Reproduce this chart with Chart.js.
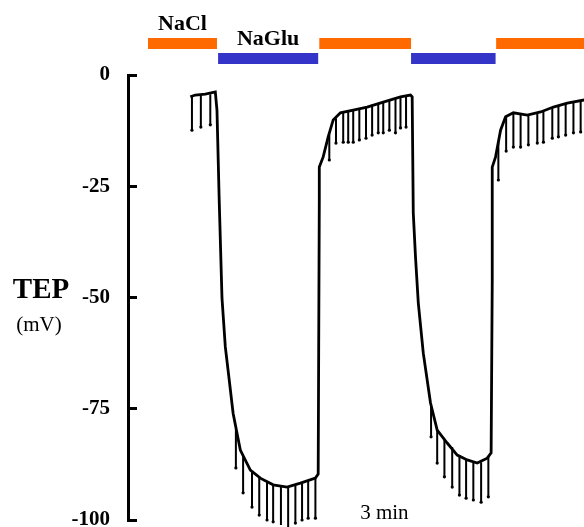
<!DOCTYPE html>
<html lang="en">
<head>
  <meta charset="UTF-8">
  <title>TEP trace</title>
  <script src="https://cdn.jsdelivr.net/npm/chart.js"></script>
  <style>
    html, body { margin: 0; padding: 0; background: #fff; }
    #wrap { width: 584px; height: 527px; position: relative; }
  </style>
</head>
<body>
  <div id="wrap"><canvas id="tep-chart"></canvas></div>

  <script>
    // time in s, TEP in mV
    const traceTime = [112, 121, 139, 157, 160, 164, 169, 175, 182, 189, 202, 220, 238, 261, 286, 310, 337, 342,
      344, 344, 351, 360, 369, 382, 405, 430, 459, 490, 508, 511, 513, 517, 522, 531, 544, 556, 574, 592, 610,
      628, 646, 653, 655, 655, 661, 670, 679, 693, 718, 742, 765, 790, 821];
    const traceTEP = [-4.9, -4.5, -4.3, -3.8, -7.9, -28.1, -50.1, -61.1, -68.5, -76.0, -84.3, -88.8, -90.6, -92.1,
      -92.6, -91.7, -90.6, -89.7, -28.1, -20.7, -18.4, -13.9, -10.1, -8.5, -7.9, -7.2, -6.1, -4.9, -4.5, -4.9,
      -31.0, -40.9, -51.2, -62.5, -73.7, -79.8, -82.7, -85.4, -86.5, -87.2, -86.1, -84.9, -46.1, -20.7, -18.4,
      -12.4, -9.4, -8.5, -9.0, -8.3, -7.2, -6.3, -5.6];

    // the downward deflections (current pulses)
    const spikeTime = [115, 131, 148, 194, 207, 223, 236, 250, 261, 275, 288, 301, 313, 324, 337,
      362, 374, 387, 396, 405, 416, 428, 439, 450, 459, 470, 481, 490, 500,
      545, 556, 569, 583, 596, 608, 621, 635, 648,
      666, 680, 693, 706, 720, 736, 747, 763, 774, 787, 801, 814];
    const spikeTop = [-4.9, -4.5, -4.3, -79.6, -85.6, -89.0, -90.3, -91.5, -92.1, -92.4, -92.6, -92.1, -91.5, -91.0, -90.6,
      -13.3, -9.7, -8.3, -8.1, -7.9, -7.6, -7.2, -6.7, -6.3, -6.1, -5.6, -5.4, -4.9, -4.7,
      -74.2, -79.8, -82.0, -83.6, -85.4, -86.5, -87.0, -87.0, -85.8,
      -15.1, -9.4, -8.5, -8.8, -9.0, -8.5, -8.1, -7.4, -7.0, -6.5, -6.1, -5.8];
    const spikeBottom = [-12.4, -11.7, -11.2, -88.3, -93.9, -97.1, -98.9, -100.0, -100.4, -101.1, -101.6, -100.7, -100.0, -99.6, -99.6,
      -19.1, -15.3, -15.1, -15.1, -15.1, -14.6, -14.2, -13.5, -13.0, -13.0, -12.4, -13.0, -11.9, -11.7,
      -81.3, -87.2, -90.3, -92.6, -94.4, -95.1, -95.5, -96.0, -94.8,
      -23.6, -17.1, -16.2, -16.2, -15.7, -15.3, -15.1, -14.2, -13.9, -13.5, -13.0, -12.8];

    // bath solutions
    const solutionNames = ['NaCl', 'NaGlu', 'NaCl', 'NaGlu', 'NaCl'];
    const solutionStart = [36, 162, 344, 509, 662];
    const solutionEnd = [160, 342, 509, 661, 821];

    const yTicks = [0, -25, -50, -75, -100];

    const solutionStyle = {
      NaCl: { color: '#ff6a00', level: 7.1 },
      NaGlu: { color: '#3434c8', level: 3.7 }
    };
    const serif = '"Liberation Serif", "DejaVu Serif", serif';

    const tracePts = traceTime.map((t, i) => ({ x: t, y: traceTEP[i] }));
    const spikePts = [];
    spikeTime.forEach((t, i) => {
      spikePts.push({ x: t, y: spikeTop[i] }, { x: t, y: spikeBottom[i] }, { x: t, y: null });
    });

    function solutionData(name) {
      const pts = [];
      solutionNames.forEach((n, i) => {
        if (n !== name) return;
        const lvl = solutionStyle[name].level;
        pts.push({ x: solutionStart[i], y: lvl }, { x: solutionEnd[i], y: lvl }, { x: solutionEnd[i], y: null });
      });
      return pts;
    }

    // labels that aren't axis ticks
    const textPlugin = {
      id: 'tepText',
      afterDraw(chart) {
        const c = chart.ctx;
        const xs = chart.scales.x;
        const ys = chart.scales.y;
        c.save();
        c.fillStyle = '#000';
        c.textAlign = 'center';
        c.textBaseline = 'middle';

        c.font = 'bold 22px ' + serif;
        ['NaCl', 'NaGlu'].forEach(name => {
          const i = solutionNames.indexOf(name);
          const mid = xs.getPixelForValue((solutionStart[i] + solutionEnd[i]) / 2);
          const top = ys.getPixelForValue(solutionStyle[name].level) - 5.5;
          c.fillText(name, mid, top - 14);
        });

        c.font = 'bold 29px ' + serif;
        c.fillText('TEP', 41, 291);
        c.font = '21px ' + serif;
        c.fillText('(mV)', 39, 325);

        c.font = '21px ' + serif;
        c.fillText('3 min', xs.getPixelForValue(461), 513);
        c.restore();
      }
    };

    new Chart(document.getElementById('tep-chart'), {
      type: 'line',
      data: {
        datasets: [
          {
            data: solutionData('NaCl'),
            borderColor: solutionStyle.NaCl.color,
            borderWidth: 11,
            borderCapStyle: 'butt',
            pointRadius: 0,
            spanGaps: false,
            clip: false
          },
          {
            data: solutionData('NaGlu'),
            borderColor: solutionStyle.NaGlu.color,
            borderWidth: 11,
            borderCapStyle: 'butt',
            pointRadius: 0,
            spanGaps: false,
            clip: false
          },
          {
            data: spikePts,
            borderColor: '#000',
            borderWidth: 2,
            pointRadius: ctx => (ctx.dataIndex % 3 === 1 ? 1.6 : 0),
            pointBackgroundColor: '#000',
            pointBorderWidth: 0,
            spanGaps: false,
            clip: false
          },
          {
            data: tracePts,
            borderColor: '#000',
            borderWidth: 2.8,
            pointRadius: 0,
            tension: 0,
            clip: false
          }
        ]
      },
      options: {
        responsive: true,
        maintainAspectRatio: false,
        animation: false,
        events: [],
        layout: { padding: { top: 75, bottom: 7, left: 0, right: 0 } },
        plugins: {
          legend: { display: false },
          tooltip: { enabled: false }
        },
        scales: {
          x: {
            type: 'linear',
            min: 0,
            max: 820,
            display: false
          },
          y: {
            min: -100,
            max: 0,
            // fixed axis width; drop the label padding so the range runs 0..-100 over the full height
            afterFit: s => { s.width = 128; s.paddingTop = 0; s.paddingBottom = 0; },
            afterBuildTicks: s => { s.ticks = yTicks.map(v => ({ value: v })); },
            border: { display: true, width: 3, color: '#000' },
            grid: {
              drawOnChartArea: false,
              drawTicks: true,
              tickLength: -9,
              tickWidth: 3,
              tickColor: '#000'
            },
            ticks: {
              padding: 27,
              color: '#000',
              font: { family: serif, size: 21, weight: 'bold' },
              callback: v => String(v)
            }
          }
        }
      },
      plugins: [textPlugin]
    });
  </script>
</body>
</html>
